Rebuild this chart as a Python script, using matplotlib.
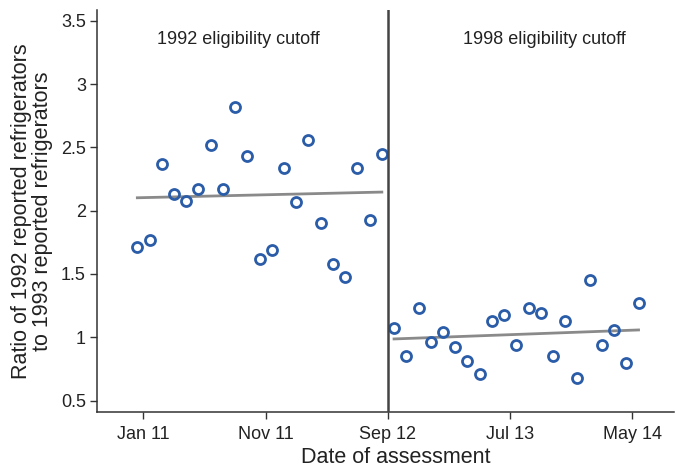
import matplotlib.pyplot as plt
import numpy as np

plt.rcParams['font.family'] = ['Liberation Sans', 'DejaVu Sans']

# months since Jan 2011, points sit mid-month
months_1992 = np.arange(21) - 0.5
ratio_1992 = [1.71, 1.77, 2.37, 2.13, 2.08, 2.17, 2.52, 2.17, 2.82, 2.43, 1.62,
              1.69, 2.34, 2.07, 2.56, 1.90, 1.58, 1.48, 2.34, 1.93, 2.45]
months_1998 = np.arange(21) + 20.5
ratio_1998 = [1.07, 0.85, 1.23, 0.96, 1.04, 0.92, 0.81, 0.71, 1.13, 1.18, 0.94,
              1.23, 1.19, 0.85, 1.13, 0.68, 1.45, 0.94, 1.06, 0.80, 1.27]

# fitted trend, value at first and last point of each period
fit_1992 = [2.102, 2.147]
fit_1998 = [0.987, 1.058]

cutoff_month = 20
tick_months = [0, 10, 20, 30, 40]
tick_labels = ['Jan 11', 'Nov 11', 'Sep 12', 'Jul 13', 'May 14']
y_ticks = [0.5, 1, 1.5, 2, 2.5, 3, 3.5]
y_labels = ['0.5', '1', '1.5', '2', '2.5', '3', '3.5']

fig = plt.figure(figsize=(6.75, 4.67), dpi=100)
ax = fig.add_axes([97 / 675, 1 - 412 / 467, (674 - 97) / 675, (412 - 10) / 467])

blue = '#2a5ca8'
gray = '#8a8a8a'
ink = '#222222'

ax.plot([months_1992[0], months_1992[-1]], fit_1992, color=gray, lw=2.0, zorder=2)
ax.plot([months_1998[0], months_1998[-1]], fit_1998, color=gray, lw=2.0, zorder=2)

for xs, ys in [(months_1992, ratio_1992), (months_1998, ratio_1998)]:
    ax.plot(xs, ys, 'o', ms=7.2, mfc='none', mec=blue, mew=2.0, zorder=3)

ax.axvline(cutoff_month, color='#444444', lw=1.8, zorder=4)

ax.text(7.8, 3.355, '1992 eligibility cutoff', ha='center', va='center',
        fontsize=13, color=ink)
ax.text(32.8, 3.355, '1998 eligibility cutoff', ha='center', va='center',
        fontsize=13, color=ink)

ax.set_xlim(-3.8, 43.4)
ax.set_ylim(0.41, 3.585)
ax.set_xticks(tick_months)
ax.set_xticklabels(tick_labels)
ax.set_yticks(y_ticks)
ax.set_yticklabels(y_labels)

for side in ['top', 'right']:
    ax.spines[side].set_visible(False)
for side in ['left', 'bottom']:
    ax.spines[side].set_color('#333333')
    ax.spines[side].set_linewidth(1.1)

ax.tick_params(direction='out', length=5, width=1.0, color='#333333',
               labelsize=13, labelcolor=ink)
ax.tick_params(axis='x', pad=5)
ax.tick_params(axis='y', pad=3)

ax.set_xlabel('Date of assessment', fontsize=15.5, color=ink)
ax.xaxis.set_label_coords(0.517, -0.088)
ax.set_ylabel('Ratio of 1992 reported refrigerators\nto 1993 reported refrigerators',
              fontsize=15.5, color=ink, labelpad=6, linespacing=1.0)

fig.savefig('out.png', dpi=100)
